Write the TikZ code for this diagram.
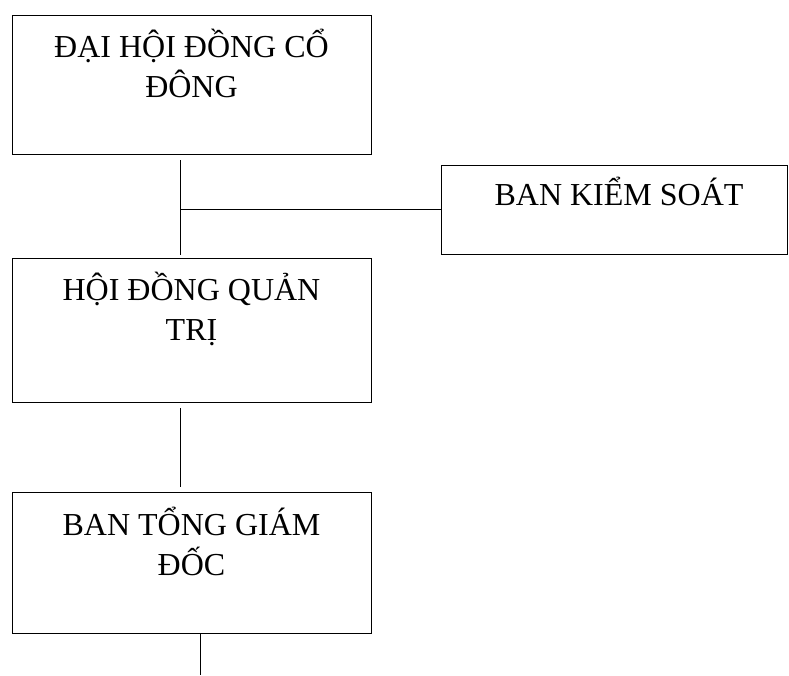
\documentclass[tikz,border=0pt]{standalone}
\usepackage{fontspec}
\setmainfont{Liberation Serif}
\usetikzlibrary{positioning}
\tikzset{
  khung/.style={draw, line width=0.9pt, inner sep=0pt},
  chu/.style={inner sep=0pt, align=center, font=\fontsize{32}{40}\selectfont}
}
\begin{document}
\begin{tikzpicture}[x=1pt, y=-1pt]
        \useasboundingbox (0,0) rectangle (789,675);

        \node[khung, minimum width=359pt, minimum height=139pt] (dhdcd) at (191.5, 84.5) {};
        \node[khung, minimum width=346pt, minimum height=89pt] (bks) at (614, 209.5) {};
        \node[khung, minimum width=359pt, minimum height=144pt] (hdqt) at (191.5, 330) {};
        \node[khung, minimum width=359pt, minimum height=141pt] (btgd) at (191.5, 562.5) {};

        \node[chu, below=14pt of dhdcd.north] (t1) {ĐẠI HỘI ĐỒNG CỔ\\ĐÔNG};
        \node[chu, below=12pt of bks.north, xshift=5pt] (t2) {BAN KIỂM SOÁT};
        \node[chu, below=14pt of hdqt.north] (t3) {HỘI ĐỒNG QUẢN\\TRỊ};
        \node[chu, below=15pt of btgd.north] (t4) {BAN TỔNG GIÁM\\ĐỐC};

        % duong noi
        \draw[line width=0.9pt, shorten <=6pt, shorten >=3pt] ([xshift=-11.5pt]dhdcd.south) -- ([xshift=-11.5pt]hdqt.north);
        \coordinate (re) at ([xshift=-11.5pt]dhdcd.south |- bks.west);
        \draw[line width=0.9pt] (re) -- (bks.west);
        \draw[line width=0.9pt, shorten <=6pt, shorten >=5pt] ([xshift=-11.5pt]hdqt.south) -- ([xshift=-11.5pt]btgd.north);
        \coordinate (cuoi) at (200, 675);
        \draw[line width=0.9pt] ([xshift=8.5pt]btgd.south) -- (cuoi);
      \end{tikzpicture}
\end{document}
